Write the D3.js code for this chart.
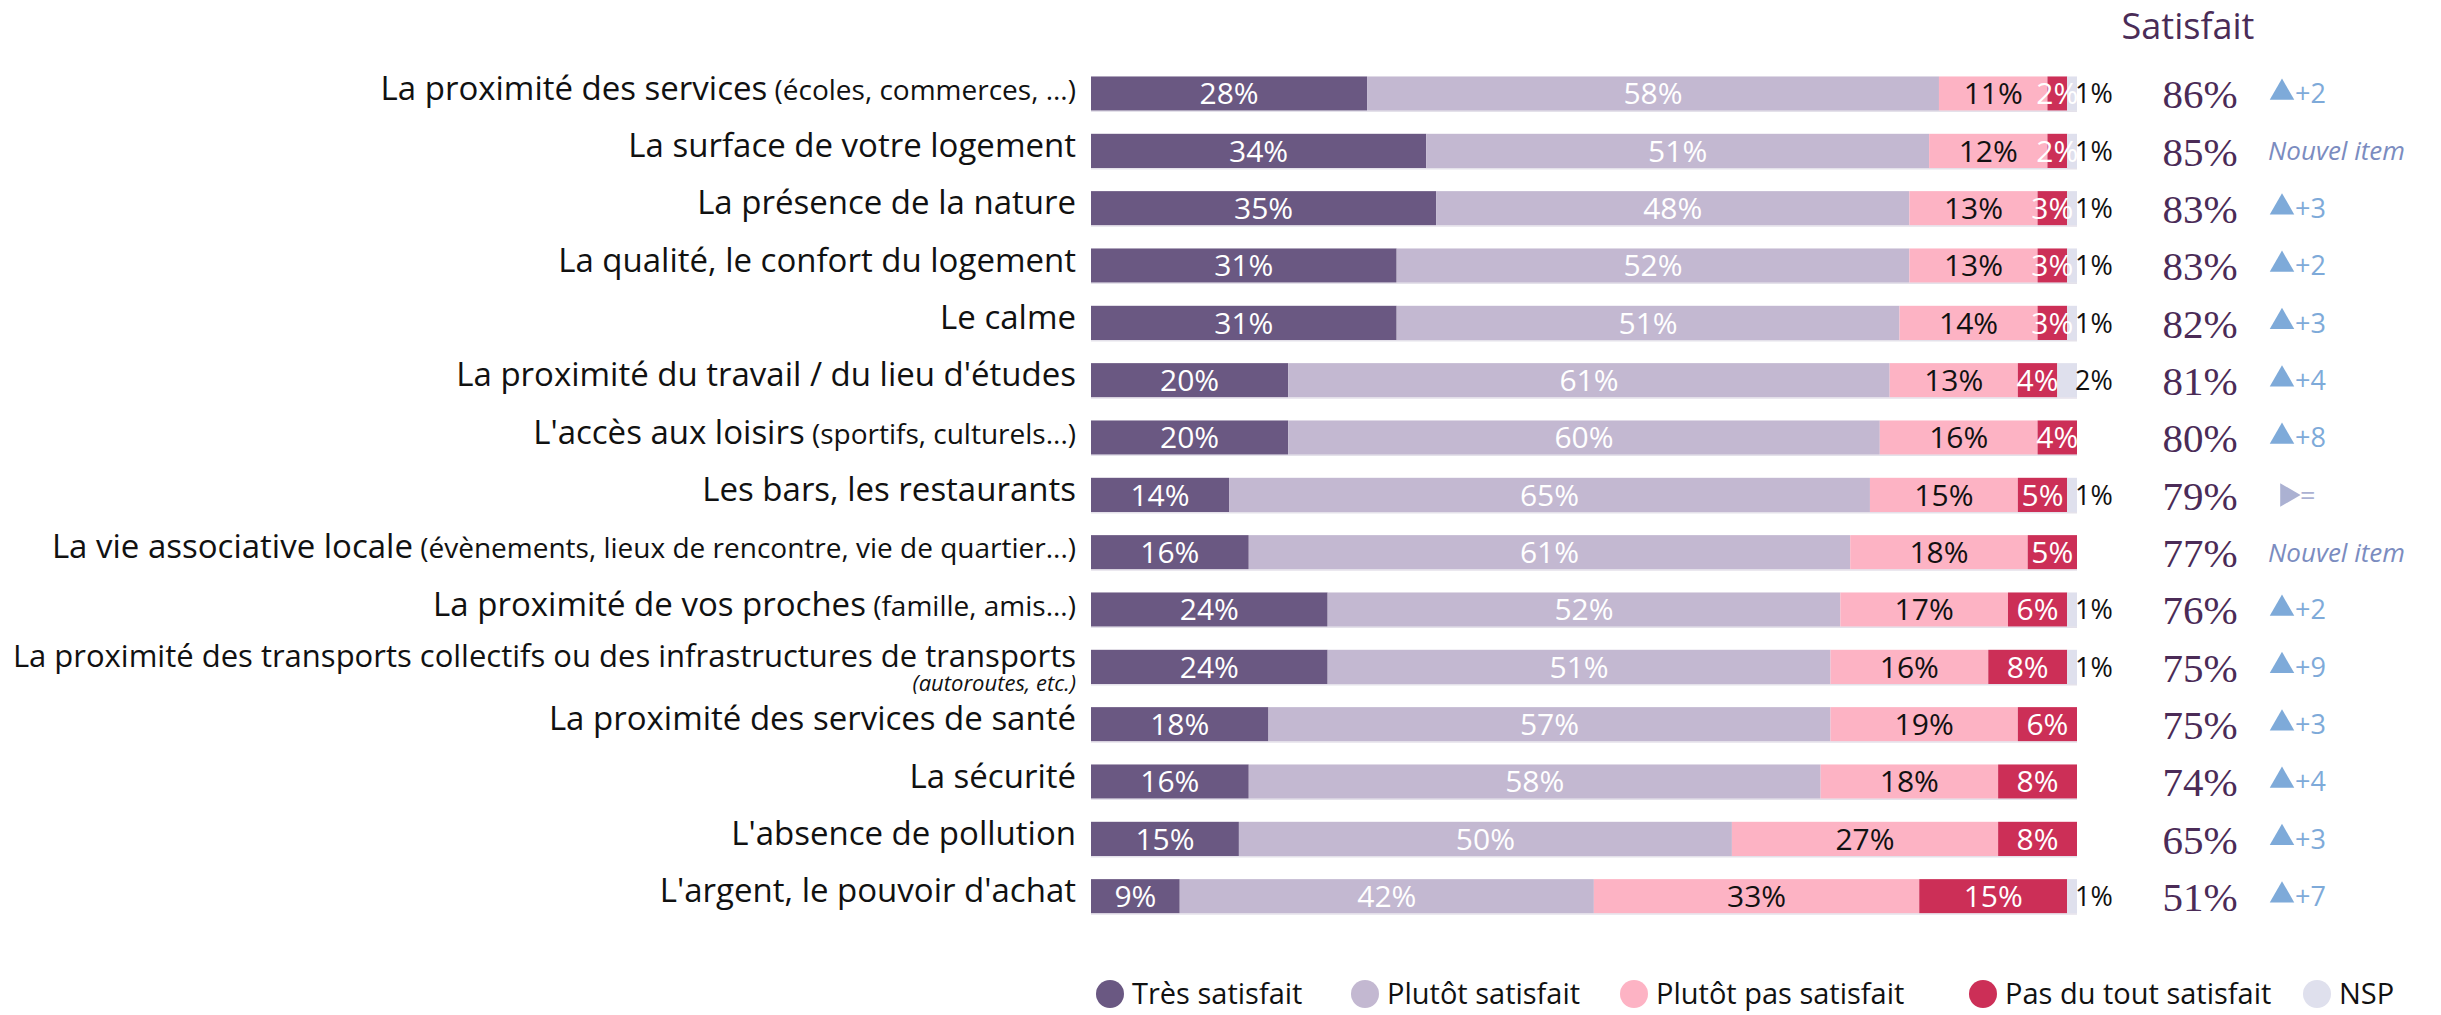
<!DOCTYPE html>
<html>
<head>
<meta charset="utf-8">
<script src="https://cdn.jsdelivr.net/npm/d3@7"></script>
<style>
  body { margin: 0; background: #fff; }
  svg { display: block; font-family: "Open Sans", sans-serif; }
</style>
</head>
<body>
<svg width="2441" height="1015"></svg>
<script>
// categories (main label + smaller detail in brackets)
var categories = [
    "La proximité des services",
    "La surface de votre logement",
    "La présence de la nature",
    "La qualité, le confort du logement",
    "Le calme",
    "La proximité du travail / du lieu d'études",
    "L'accès aux loisirs",
    "Les bars, les restaurants",
    "La vie associative locale",
    "La proximité de vos proches",
    "La proximité des transports collectifs ou des infrastructures de transports",
    "La proximité des services de santé",
    "La sécurité",
    "L'absence de pollution",
    "L'argent, le pouvoir d'achat"
];
var details = [
    "(écoles, commerces, ...)", "", "", "", "", "",
    "(sportifs, culturels...)", "",
    "(évènements, lieux de rencontre, vie de quartier...)",
    "(famille, amis...)",
    "(autoroutes, etc.)",
    "", "", "", ""
];
var detailOnNextLine = [10];

var tresSatisfait   = [28, 34, 35, 31, 31, 20, 20, 14, 16, 24, 24, 18, 16, 15, 9];
var plutotSatisfait = [58, 51, 48, 52, 51, 61, 60, 65, 61, 52, 51, 57, 58, 50, 42];
var plutotPas       = [11, 12, 13, 13, 14, 13, 16, 15, 18, 17, 16, 19, 18, 27, 33];
var pasDuTout       = [2, 2, 3, 3, 3, 4, 4, 5, 5, 6, 8, 6, 8, 8, 15];
var nsp             = [1, 1, 1, 1, 1, 2, 0, 1, 0, 1, 1, 0, 0, 0, 1];

var satisfait = [86, 85, 83, 83, 82, 81, 80, 79, 77, 76, 75, 75, 74, 65, 51];
var evolution = ["+2", "Nouvel item", "+3", "+2", "+3", "+4", "+8", "=", "Nouvel item",
                 "+2", "+9", "+3", "+4", "+3", "+7"];

var seriesNames = ["Très satisfait", "Plutôt satisfait", "Plutôt pas satisfait", "Pas du tout satisfait", "NSP"];
var seriesColors = ["#6a5882", "#c3b8d1", "#fdb3c4", "#cc2f57", "#dfe0ed"];
var labelColors = ["#fff", "#fff", "#111", "#fff", "#111"];

var svg = d3.select("svg");

// table for the stack
var table = categories.map(function(c, i) {
    return {
        cat: c,
        "Très satisfait": tresSatisfait[i],
        "Plutôt satisfait": plutotSatisfait[i],
        "Plutôt pas satisfait": plutotPas[i],
        "Pas du tout satisfait": pasDuTout[i],
        "NSP": nsp[i]
    };
});

var stacked = d3.stack().keys(seriesNames)(table);

var x = d3.scaleLinear().domain([0, 100]).range([1091, 2077]);
var y = d3.scaleBand()
    .domain(categories)
    .range([65, 925])
    .paddingInner(0.4)
    .paddingOuter(0.2);
var color = d3.scaleOrdinal().domain(seriesNames).range(seriesColors);

// bars
var layers = svg.append("g").selectAll("g")
    .data(stacked)
    .join("g")
    .attr("fill", function(d) { return color(d.key); });

layers.selectAll("rect")
    .data(function(d) { return d; })
    .join("rect")
    .attr("x", function(d) { return x(d[0]); })
    .attr("y", function(d) { return y(d.data.cat); })
    .attr("width", function(d) { return x(d[1]) - x(d[0]); })
    .attr("height", y.bandwidth());

// thin outline under each bar
svg.append("g").selectAll("line")
    .data(categories)
    .join("line")
    .attr("x1", x(0)).attr("x2", x(100))
    .attr("y1", function(d) { return y(d) + y.bandwidth() + 0.5; })
    .attr("y2", function(d) { return y(d) + y.bandwidth() + 0.5; })
    .attr("stroke", "#e4e1ea").attr("stroke-width", 1.5);

// value labels inside segments
stacked.forEach(function(layer, k) {
    var g = svg.append("g")
        .attr("font-size", k == 4 ? 27 : 30)
        .attr("fill", labelColors[k])
        .attr("text-anchor", "middle");
    g.selectAll("text")
        .data(layer.filter(function(d) { return d[1] - d[0] > 0; }))
        .join("text")
        .attr("x", function(d) {
            if (k == 4) return x(100) + 17;  // NSP sits just outside the bar
            return (x(d[0]) + x(d[1])) / 2;
        })
        .attr("y", function(d) { return y(d.data.cat) + y.bandwidth() / 2; })
        .attr("dy", "0.36em")
        .text(function(d) { return Math.round(d[1] - d[0]) + "%"; });
});

// category labels
var labels = svg.append("g").attr("text-anchor", "end");
categories.forEach(function(c, i) {
    var cy = y(c) + y.bandwidth() / 2;
    if (detailOnNextLine.indexOf(i) >= 0) {
        labels.append("text")
            .attr("x", 1076).attr("y", cy - 11)
            .attr("dy", "0.36em")
            .attr("font-size", 31).attr("fill", "#111")
            .text(c);
        labels.append("text")
            .attr("x", 1076).attr("y", cy + 16)
            .attr("dy", "0.36em")
            .attr("font-size", 22).attr("font-style", "italic").attr("fill", "#111")
            .text(details[i]);
        return;
    }
    var t = labels.append("text")
        .attr("x", 1076).attr("y", cy)
        .attr("dy", "0.38em")
        .attr("fill", "#111");
    t.append("tspan").attr("font-size", 33).text(c);
    if (details[i]) {
        t.append("tspan").attr("font-size", 28).text(" " + details[i]);
    }
});

// "Satisfait" column
svg.append("text")
    .attr("x", 2188).attr("y", 39)
    .attr("text-anchor", "middle")
    .attr("font-size", 36)
    .attr("fill", "#4a2c57")
    .text("Satisfait");

svg.append("g").selectAll("text")
    .data(satisfait)
    .join("text")
    .attr("x", 2200)
    .attr("y", function(d, i) { return y(categories[i]) + y.bandwidth() / 2; })
    .attr("dy", "0.36em")
    .attr("text-anchor", "middle")
    .attr("font-family", "'Liberation Serif', serif")
    .attr("font-size", 41)
    .attr("fill", "#4b2b57")
    .text(function(d) { return d + "%"; });

// evolution vs previous wave
var evo = svg.append("g");
evolution.forEach(function(e, i) {
    var cy = y(categories[i]) + y.bandwidth() / 2;
    if (e == "Nouvel item") {
        evo.append("text")
            .attr("x", 2268).attr("y", cy)
            .attr("dy", "0.36em")
            .attr("font-size", 26).attr("font-style", "italic")
            .attr("fill", "#7b8cc0")
            .text(e);
    } else if (e == "=") {
        evo.append("path")
            .attr("d", d3.symbol(d3.symbolTriangle, 240)())
            .attr("transform", "translate(2287," + cy + ") rotate(90)")
            .attr("fill", "#abb1d2");
        evo.append("text")
            .attr("x", 2300).attr("y", cy)
            .attr("dy", "0.36em")
            .attr("font-size", 27).attr("fill", "#abb1d2")
            .text("=");
    } else {
        evo.append("path")
            .attr("d", d3.symbol(d3.symbolTriangle, 260)())
            .attr("transform", "translate(2282," + (cy - 1) + ")")
            .attr("fill", "#7eaad9");
        evo.append("text")
            .attr("x", 2295).attr("y", cy)
            .attr("dy", "0.36em")
            .attr("font-size", 27).attr("fill", "#7eaad9")
            .text(e);
    }
});

// legend
var legendX = [1110, 1365, 1634, 1983, 2317];
var legend = svg.append("g").selectAll("g")
    .data(seriesNames)
    .join("g")
    .attr("transform", function(d, i) { return "translate(" + legendX[i] + ",994)"; });
legend.append("circle")
    .attr("r", 14)
    .attr("fill", function(d) { return color(d); });
legend.append("text")
    .attr("x", 22)
    .attr("dy", "0.36em")
    .attr("font-size", 29)
    .attr("fill", "#111")
    .text(function(d) { return d; });
</script>
</body>
</html>
